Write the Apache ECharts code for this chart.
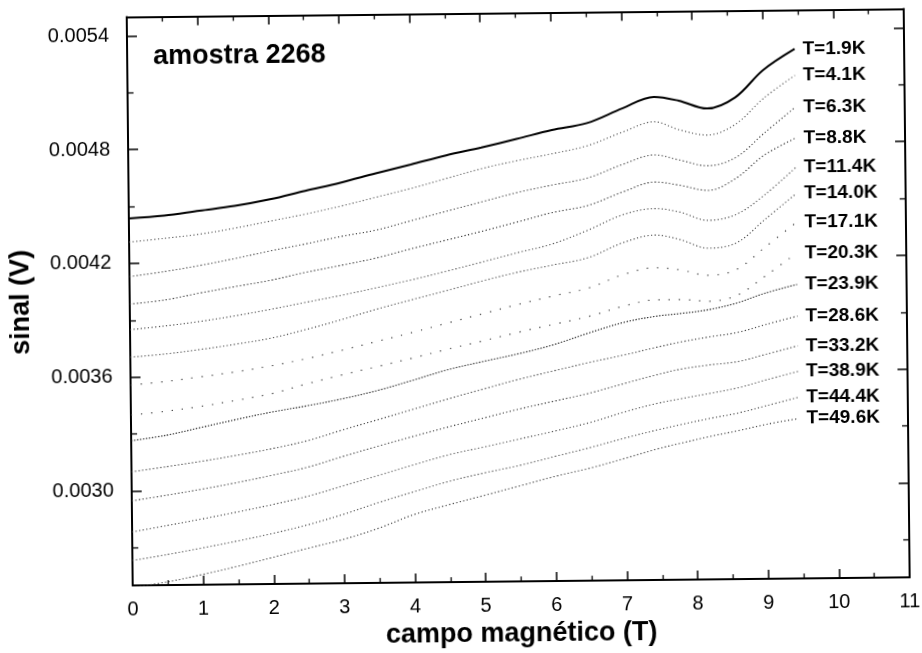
<!DOCTYPE html>
<html>
<head>
<meta charset="utf-8">
<script src="https://cdn.jsdelivr.net/npm/echarts@6/dist/echarts.min.js"></script>
<style>
  html, body { margin: 0; padding: 0; background: #fff; overflow: hidden; }
  #chart { width: 922px; height: 653px; transform: rotate(-0.6deg); transform-origin: 50% 50%; }
</style>
</head>
<body>
<div id="chart"></div>
<script>
// magnetic field sampling points (T)
const fieldT = [0, 0.5, 1, 1.5, 2, 2.5, 3, 3.5, 4, 4.5, 5, 5.5, 6, 6.5, 7, 7.45, 7.8, 8.2, 8.6, 9, 9.45];

// temperature of each sweep (K)
const temperatures = ['1.9', '4.1', '6.3', '8.8', '11.4', '14.0', '17.1', '20.3', '23.9', '28.6', '33.2', '38.9', '44.4', '49.6'];

// signal (V) for each sweep
const signal_1_9K  = [0.004437, 0.00445, 0.004474, 0.004497, 0.00453, 0.004573, 0.004614, 0.004661, 0.004706, 0.004752, 0.004792, 0.004835, 0.00488, 0.004915, 0.00499, 0.005049, 0.005028, 0.004985, 0.005042, 0.005185, 0.005295];
const signal_4_1K  = [0.004312, 0.00433, 0.00435, 0.00438, 0.004415, 0.00445, 0.00449, 0.004535, 0.00458, 0.00463, 0.00468, 0.00472, 0.004755, 0.004795, 0.004865, 0.004918, 0.004875, 0.004845, 0.0049, 0.005035, 0.005155];
const signal_6_3K  = [0.00413, 0.004155, 0.004185, 0.00422, 0.004258, 0.004293, 0.00433, 0.004362, 0.00441, 0.004458, 0.004505, 0.004552, 0.00459, 0.004625, 0.004695, 0.004743, 0.004715, 0.004683, 0.004725, 0.00485, 0.004987];
const signal_8_8K  = [0.003985, 0.004005, 0.00404, 0.004072, 0.004103, 0.004143, 0.004178, 0.004215, 0.004262, 0.004306, 0.00435, 0.004397, 0.004445, 0.00448, 0.00455, 0.0046, 0.004582, 0.004553, 0.004615, 0.004735, 0.004824];
const signal_11_4K = [0.00385, 0.003868, 0.00389, 0.003918, 0.00395, 0.003985, 0.00402, 0.004058, 0.004098, 0.004142, 0.004188, 0.004235, 0.00428, 0.00435, 0.00443, 0.00446, 0.00444, 0.004395, 0.004425, 0.004525, 0.00467];
const signal_14_0K = [0.003705, 0.00372, 0.003742, 0.003768, 0.003798, 0.003842, 0.003892, 0.003945, 0.003993, 0.00404, 0.004088, 0.004132, 0.004168, 0.004205, 0.004283, 0.00432, 0.004295, 0.004248, 0.004275, 0.004395, 0.004531];
const signal_17_1K = [0.003558, 0.003575, 0.003598, 0.003622, 0.003652, 0.003688, 0.00373, 0.003775, 0.00382, 0.003868, 0.003915, 0.003962, 0.004005, 0.004045, 0.004115, 0.004148, 0.004135, 0.004105, 0.004135, 0.00425, 0.00438];
const signal_20_3K = [0.0034, 0.003418, 0.003442, 0.003472, 0.003505, 0.003555, 0.0036, 0.003642, 0.003685, 0.00373, 0.003772, 0.003815, 0.003855, 0.003895, 0.003948, 0.003978, 0.003978, 0.003968, 0.003998, 0.004098, 0.004218];
const signal_23_9K = [0.003264, 0.003291, 0.003331, 0.003371, 0.003408, 0.003439, 0.003474, 0.003516, 0.003568, 0.003622, 0.003663, 0.003702, 0.003748, 0.003808, 0.003862, 0.003892, 0.003905, 0.003924, 0.003958, 0.004008, 0.004052];
const signal_28_6K = [0.0031, 0.003125, 0.003152, 0.003182, 0.003215, 0.003255, 0.00331, 0.003362, 0.003415, 0.003468, 0.003518, 0.003567, 0.00361, 0.003652, 0.00369, 0.003728, 0.003755, 0.00378, 0.003802, 0.003842, 0.003885];
const signal_33_2K = [0.002947, 0.002975, 0.003005, 0.003038, 0.003075, 0.003115, 0.00317, 0.003222, 0.003272, 0.00332, 0.003365, 0.00341, 0.00345, 0.00349, 0.00354, 0.003583, 0.003612, 0.003632, 0.003648, 0.003685, 0.003728];
const signal_38_9K = [0.002783, 0.002815, 0.002848, 0.002883, 0.00292, 0.002962, 0.003015, 0.003068, 0.003122, 0.003173, 0.003212, 0.003252, 0.003292, 0.003335, 0.00339, 0.003432, 0.003456, 0.003482, 0.00351, 0.00355, 0.003593];
const signal_44_4K = [0.002632, 0.002662, 0.002695, 0.00273, 0.002768, 0.002812, 0.002865, 0.002925, 0.00298, 0.003033, 0.003075, 0.003113, 0.003158, 0.003203, 0.003252, 0.003292, 0.00332, 0.00335, 0.003377, 0.003414, 0.003456];
const signal_49_6K = [0.00249, 0.002518, 0.002555, 0.002597, 0.002642, 0.002688, 0.002733, 0.00279, 0.00286, 0.00291, 0.002957, 0.003005, 0.003053, 0.003095, 0.003145, 0.003192, 0.003222, 0.003255, 0.003284, 0.003316, 0.003344];

// y-axis tick values (V)
const majorTicksV = [0.0030, 0.0036, 0.0042, 0.0048, 0.0054];
const minorTicksV = [0.0027, 0.0033, 0.0039, 0.0045, 0.0051];

const sweeps = [signal_1_9K, signal_4_1K, signal_6_3K, signal_8_8K, signal_11_4K, signal_14_0K, signal_17_1K,
                signal_20_3K, signal_23_9K, signal_28_6K, signal_33_2K, signal_38_9K, signal_44_4K, signal_49_6K];

// line look for each sweep: lowest temperature solid, the others dotted
const dotted = [1.2, 2.4];
const sparse = [1.2, 9];
const lineLooks = [
  { type: 'solid', width: 2, color: '#000' },
  { type: dotted, width: 1.1, color: '#555' },
  { type: dotted, width: 1.1, color: '#333' },
  { type: dotted, width: 1.1, color: '#222' },
  { type: dotted, width: 1.1, color: '#444' },
  { type: dotted, width: 1.1, color: '#444' },
  { type: sparse, width: 1.2, color: '#333' },
  { type: sparse, width: 1.2, color: '#333' },
  { type: [1.4, 1.6], width: 1.1, color: '#222' },
  { type: dotted, width: 1.1, color: '#333' },
  { type: dotted, width: 1.1, color: '#333' },
  { type: dotted, width: 1.1, color: '#444' },
  { type: dotted, width: 1.1, color: '#444' },
  { type: dotted, width: 1.1, color: '#333' }
];

const FONT = "'Liberation Sans', Arial, Helvetica, sans-serif";
const frameLine = { show: true, lineStyle: { color: '#000', width: 2 } };

const series = sweeps.map((vals, i) => ({
  name: 'T=' + temperatures[i] + 'K',
  type: 'line',
  xAxisIndex: 0,
  yAxisIndex: 0,
  data: fieldT.map((b, j) => [b, vals[j]]),
  smooth: 0.35,
  showSymbol: false,
  symbol: 'none',
  clip: true,
  lineStyle: lineLooks[i],
  endLabel: {
    show: true,
    formatter: '{a}',
    distance: 8,
    color: '#000',
    fontFamily: FONT,
    fontSize: 19,
    fontWeight: 'bold'
  },
  emphasis: { disabled: true },
  animation: false
}));

const chart = echarts.init(document.getElementById('chart'), null, { renderer: 'canvas' });
chart.setOption({
  backgroundColor: '#fff',
  animation: false,
  textStyle: { fontFamily: FONT, color: '#000' },
  title: {
    text: 'amostra 2268',
    left: 151,
    top: 35,
    textStyle: { fontFamily: FONT, fontSize: 27, fontWeight: 'bold', color: '#000' }
  },
  grid: { left: 128.5, right: 15, top: 13.5, bottom: 66.5, containLabel: false },
  xAxis: [
    {
      type: 'value', position: 'bottom', min: 0, max: 11, interval: 1,
      axisLine: frameLine,
      axisTick: { show: true, inside: true, length: 9, lineStyle: { color: '#000', width: 1.5 } },
      minorTick: { show: true, splitNumber: 2, length: 5, lineStyle: { color: '#000', width: 1.3 } },
      axisLabel: { show: true, margin: 14, fontSize: 20, color: '#000', fontFamily: FONT },
      splitLine: { show: false },
      minorSplitLine: { show: false },
      name: 'campo magnético (T)',
      nameLocation: 'middle',
      nameGap: 35,
      nameTextStyle: { fontFamily: FONT, fontSize: 27, fontWeight: 'bold', color: '#000' }
    },
    {
      type: 'value', position: 'top', min: 0, max: 11, interval: 1,
      axisLine: frameLine,
      axisTick: { show: true, inside: true, length: 9, lineStyle: { color: '#000', width: 1.5 } },
      minorTick: { show: true, splitNumber: 2, length: 5, lineStyle: { color: '#000', width: 1.3 } },
      axisLabel: { show: false },
      splitLine: { show: false }
    }
  ],
  yAxis: [
    {
      type: 'value', position: 'left', min: 0.0025, max: 0.0055,
      axisLine: frameLine,
      axisTick: { show: true, inside: true, length: 10, customValues: majorTicksV, lineStyle: { color: '#000', width: 1.5 } },
      axisLabel: { show: true, customValues: majorTicksV, margin: 18, fontSize: 20, color: '#000', fontFamily: FONT,
                   formatter: v => v.toFixed(4) },
      splitLine: { show: false },
      name: 'sinal (V)',
      nameLocation: 'middle',
      nameRotate: 90,
      nameGap: 95,
      nameTextStyle: { fontFamily: FONT, fontSize: 27, fontWeight: 'bold', color: '#000' }
    },
    {
      type: 'value', position: 'left', min: 0.0025, max: 0.0055,
      axisLine: { show: false },
      axisTick: { show: true, inside: true, length: 6, customValues: minorTicksV, lineStyle: { color: '#000', width: 1.3 } },
      axisLabel: { show: false },
      splitLine: { show: false }
    },
    {
      type: 'value', position: 'right', min: 0.0025, max: 0.0055,
      axisLine: frameLine,
      axisTick: { show: true, inside: true, length: 10, customValues: majorTicksV, lineStyle: { color: '#000', width: 1.5 } },
      axisLabel: { show: false },
      splitLine: { show: false }
    },
    {
      type: 'value', position: 'right', min: 0.0025, max: 0.0055,
      axisLine: { show: false },
      axisTick: { show: true, inside: true, length: 6, customValues: minorTicksV, lineStyle: { color: '#000', width: 1.3 } },
      axisLabel: { show: false },
      splitLine: { show: false }
    }
  ],
  series: series
});
</script>
</body>
</html>
